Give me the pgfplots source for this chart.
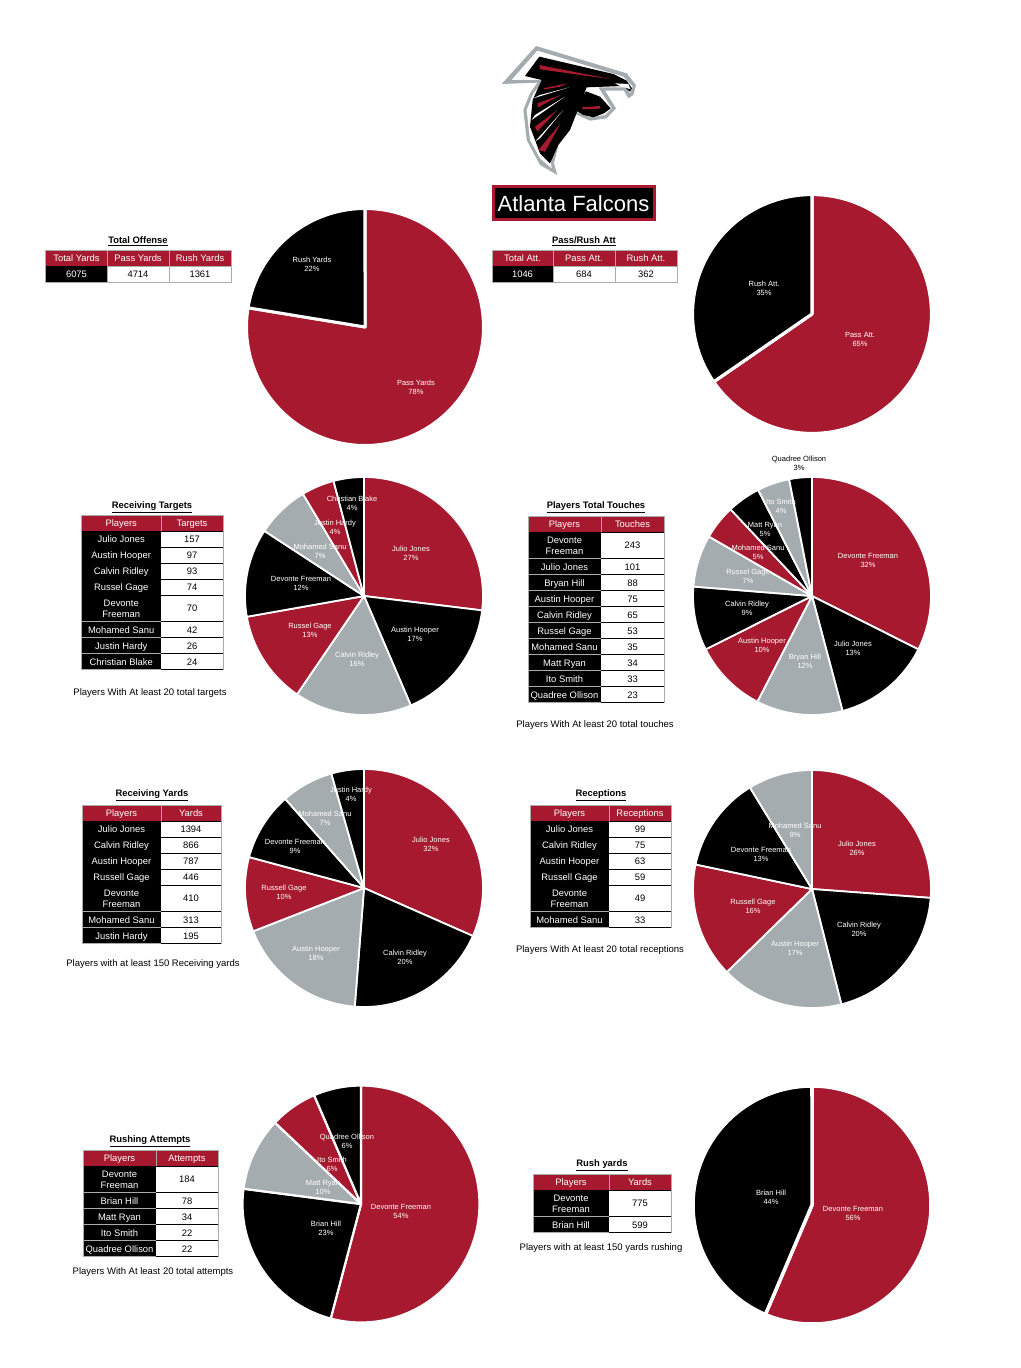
\documentclass[border=0pt]{standalone}
\usepackage{fontspec}
\setmainfont{Liberation Sans}
\usepackage{pgfplots}
\pgfplotsset{compat=1.18}
\definecolor{fred}{HTML}{A6192E}
\definecolor{fgrey}{HTML}{A5ACAF}
\definecolor{fline}{HTML}{ABABAB}

% one pie: centre x, centre y (from the top), diameter, white line width, value/colour list
\newcommand{\piechart}[5]{%
  \begin{axis}[at={(#1pt,-#2pt)},anchor=center,scale only axis,width=#3pt,height=#3pt,
    xmin=-1,xmax=1,ymin=-1,ymax=1,hide axis,clip=false]
    \gdef\pietotal{0}%
    \foreach \pv/\pc in {#5}{\pgfmathsetmacro\pietmp{\pietotal+\pv}\xdef\pietotal{\pietmp}}%
    \gdef\piestart{0}%
    \foreach \pv/\pc in {#5}{%
      \pgfmathsetmacro\piesweep{\pv/\pietotal*360}%
      \pgfmathtruncatemacro\piesteps{max(ceil(\piesweep/2),1)}%
      \gdef\piecoords{(0,0)}%
      \foreach \k in {0,...,\piesteps}{%
        \pgfmathsetmacro\pa{\piestart+\piesweep/\piesteps*\k}%
        \pgfmathsetmacro\px{sin(\pa)}%
        \pgfmathsetmacro\py{cos(\pa)}%
        \xdef\piecoords{\piecoords (\px,\py)}}%
      \edef\temp{\noexpand\addplot[fill=\pc,draw=white,line width=#4pt,line join=round]
        coordinates {\piecoords} -- cycle;}\temp
      \pgfmathsetmacro\pietmp{\piestart+\piesweep}%
      \xdef\piestart{\pietmp}}%
  \end{axis}}

\newcommand{\tabfont}{\fontsize{9.4}{10.7}\selectfont}
\newcommand{\DF}{Devonte\strut\\Freeman\strut}

% player table: x0, x1, x2, top y, two headings, rows name/value/height
\newcommand{\ptable}[7]{%
  \fill[fred] (#1,-#4) rectangle (#3,-#4-16);
  \draw[fline,line width=.8pt] (#1,-#4-16) -- (#1,-#4) -- (#3,-#4) -- (#3,-#4-16);
  \draw[fline,line width=.8pt] (#2,-#4) -- (#2,-#4-16);
  \node[white,font=\tabfont,align=center,yshift=-1.5pt] at ({(#1+#2)/2},-#4-8) {\strut #5};
  \node[white,font=\tabfont,align=center,yshift=-1.5pt] at ({(#2+#3)/2},-#4-8) {\strut #6};
  \gdef\rowy{#4+16}%
  \foreach \nm/\val/\hh in {#7}{%
    \pgfmathsetmacro\ya{\rowy}\pgfmathsetmacro\yb{\rowy+\hh}%
    \fill[black] (#1,-\ya) rectangle (#2,-\yb);
    \draw[fline,line width=.8pt] (#1,-\ya) -- (#1,-\yb) (#3,-\ya) -- (#3,-\yb) (#1,-\yb) -- (#2,-\yb);
    \draw[black,line width=.8pt] (#2,-\ya) -- (#3,-\ya) (#2,-\yb) -- (#3,-\yb);
    \node[white,font=\tabfont,align=center,yshift=-1.5pt] at ({(#1+#2)/2},{-(\ya+\yb)/2}) {\strut\nm};
    \node[black,font=\tabfont,align=center,yshift=-1.5pt] at ({(#2+#3)/2},{-(\ya+\yb)/2}) {\strut\val};
    \xdef\rowy{\yb}}%
}

% summary table frame: x0..x3
\newcommand{\stable}[4]{%
  \fill[fred] (#1,-250.5) rectangle (#4,-266);
  \fill[black] (#1,-266) rectangle (#2,-282);
  \draw[fline,line width=.8pt] (#1,-250.5) rectangle (#4,-282);
  \draw[fline,line width=.8pt] (#2,-250.5) -- (#2,-282) (#3,-250.5) -- (#3,-282) (#2,-266) -- (#4,-266);
}

\newcommand{\ttl}[3]{\node[font=\fontsize{9.4}{11}\selectfont\bfseries,yshift=-1.2pt] at (#1,-#2) {\underline{#3}};}
\newcommand{\capt}[3]{\node[font=\fontsize{9.5}{11}\selectfont,yshift=-.8pt] at (#1,-#2) {#3};}
\newcommand{\pl}[5][white]{\node[#1,font=\fontsize{7.5}{9}\selectfont,align=center,yshift=-1pt] at (#2,-#3) {\strut #4\\\strut #5\%};}

\begin{document}
\begin{tikzpicture}[x=1pt,y=1pt]
\useasboundingbox (0,0) rectangle (1020,-1368);

% pies
\piechart{365}{327}{237}{3}{4714/fred,1361/black}
\piechart{812}{314}{239}{3.2}{684/fred,362/black}
\piechart{364}{596}{238}{1.8}{157/fred,97/black,93/fgrey,74/fred,70/black,42/fgrey,26/fred,24/black}
\piechart{812}{596}{238}{1.8}{243/fred,101/black,88/fgrey,75/fred,65/black,53/fgrey,35/fred,34/black,33/fgrey,23/black}
\piechart{364}{888}{238}{1.8}{1394/fred,866/black,787/fgrey,446/fred,410/black,313/fgrey,195/black}
\piechart{812}{889}{238}{1.8}{99/fred,75/black,63/fgrey,59/fred,49/black,33/fgrey}
\piechart{361}{1204}{237}{2.2}{184/fred,78/black,34/fgrey,22/fred,22/black}
\piechart{812}{1205}{238}{3.5}{775/fred,599/black}

% logo
\begin{scope}[shift={(480,-30)},x=.3333pt,y=-.3333pt]
  \fill[fgrey] (65,162) -- (168,48) -- (440,130) -- (468,165) -- (460,195) -- (445,205) -- (432,182) -- (375,182) -- (408,235) -- (380,265) -- (330,272) -- (270,245) -- (235,345) -- (222,400) -- (232,435) -- (180,405) -- (140,330) -- (130,240) -- (150,190) -- (172,158) -- cycle;
  \fill[white] (95,150) -- (172,62) -- (430,140) -- (458,170) -- (450,190) -- (440,172) -- (355,172) -- (395,235) -- (375,255) -- (330,262) -- (265,235) -- (225,340) -- (212,395) -- (215,415) -- (180,385) -- (150,330) -- (140,240) -- (160,190) -- (195,150) -- cycle;
  \fill[black] (135,138) -- (178,80) -- (400,132) -- (440,152) -- (456,175) -- (450,185) -- (430,168) -- (320,172) -- (270,300) -- (235,345) -- (210,400) -- (180,370) -- (150,290) -- (158,210) -- (185,150) -- cycle;
  \fill[black] (318,184) -- (360,200) -- (392,235) -- (372,250) -- (340,262) -- (310,255) -- (285,240) -- (300,210) -- cycle;
  \fill[fred] (178,105) -- (395,148) -- (180,118) -- cycle;
  \fill[fred] (190,175) -- (262,160) -- (240,170) -- (195,178) -- cycle;
  \fill[fred] (172,220) -- (242,195) -- (175,232) -- cycle;
  \fill[fred] (165,290) -- (232,240) -- (172,305) -- cycle;
  \fill[fred] (175,360) -- (242,280) -- (195,365) -- cycle;
  \fill[fred] (305,232) -- (360,228) -- (360,236) -- (310,238) -- cycle;
  \fill[white] (160,205) -- (268,172) -- (180,195) -- cycle;
  \fill[white] (155,270) -- (255,200) -- (165,255) -- cycle;
  \fill[white] (165,335) -- (250,240) -- (180,325) -- cycle;
  \fill[white] (405,160) -- (445,162) -- (452,178) -- (420,168) -- cycle;
\end{scope}

% name plate
\fill[fred] (492,-185) rectangle (656,-221);
\fill[black] (495,-188) rectangle (653,-218);
\node[white,font=\fontsize{22}{24}\selectfont] at (573.5,-204) {Atlanta Falcons};

% summary tables
\ttl{138}{240}{Total Offense}
\stable{45.5}{107.5}{169}{231}
\node[white,font=\tabfont] at (76.5,-258.3) {Total Yards};
\node[white,font=\tabfont] at (138,-258.3) {Pass Yards};
\node[white,font=\tabfont] at (200,-258.3) {Rush Yards};
\node[white,font=\tabfont] at (76.5,-274.3) {6075};
\node[font=\tabfont] at (138,-274.3) {4714};
\node[font=\tabfont] at (200,-274.3) {1361};

\ttl{584}{240}{Pass/Rush Att}
\stable{492}{553}{615}{677}
\node[white,font=\tabfont] at (522.5,-258.3) {Total Att.};
\node[white,font=\tabfont] at (584,-258.3) {Pass Att.};
\node[white,font=\tabfont] at (646,-258.3) {Rush Att.};
\node[white,font=\tabfont] at (522.5,-274.3) {1046};
\node[font=\tabfont] at (584,-274.3) {684};
\node[font=\tabfont] at (646,-274.3) {362};

% player tables
\ttl{152}{506}{Receiving Targets}
\ptable{81.5}{161}{223}{515}{Players}{Targets}{Julio Jones/157/16,Austin Hooper/97/16,Calvin Ridley/93/16,Russel Gage/74/16,\DF/70/26.5,Mohamed Sanu/42/16,Justin Hardy/26/16,Christian Blake/24/16}
\capt{150}{692}{Players With At least 20 total targets}

\ttl{596}{506}{Players Total Touches}
\ptable{528}{601}{664}{516}{Players}{Touches}{\DF/243/26.5,Julio Jones/101/16,Bryan Hill/88/16,Austin Hooper/75/16,Calvin Ridley/65/16,Russel Gage/53/16,Mohamed Sanu/35/16,Matt Ryan/34/16,Ito Smith/33/16,Quadree Ollison/23/16}
\capt{595}{724}{Players With At least 20 total touches}

\ttl{152}{794}{Receiving Yards}
\ptable{82}{161}{221}{805}{Players}{Yards}{Julio Jones/1394/16,Calvin Ridley/866/16,Austin Hooper/787/16,Russell Gage/446/16,\DF/410/26.5,Mohamed Sanu/313/16,Justin Hardy/195/16}
\capt{153}{963}{Players with at least 150 Receiving yards}

\ttl{601}{794}{Receptions}
\ptable{530}{609}{671}{805}{Players}{Receptions}{Julio Jones/99/16,Calvin Ridley/75/16,Austin Hooper/63/16,Russell Gage/59/16,\DF/49/26.5,Mohamed Sanu/33/16}
\capt{600}{949}{Players With At least 20 total receptions}

\ttl{150}{1140}{Rushing Attempts}
\ptable{83}{156}{218}{1150}{Players}{Attempts}{\DF/184/26.5,Brian Hill/78/16,Matt Ryan/34/16,Ito Smith/22/16,Quadree Ollison/22/16}
\capt{153}{1271}{Players With At least 20 total attempts}

\ttl{602}{1164}{Rush yards}
\ptable{533}{609}{671}{1174}{Players}{Yards}{\DF/775/26.5,Brian Hill/599/16}
\capt{601}{1247}{Players with at least 150 yards rushing}

% pie labels
\pl{312}{264}{Rush Yards}{22}
\pl{416}{387}{Pass Yards}{78}
\pl{764}{288}{Rush Att.}{35}
\pl{860}{339}{Pass Att.}{65}

\pl{411}{553}{Julio Jones}{27}
\pl{415}{634}{Austin Hooper}{17}
\pl{357}{659}{Calvin Ridley}{16}
\pl{310}{630}{Russel Gage}{13}
\pl{301}{583}{Devonte Freeman}{12}
\pl{320}{551}{Mohamed Sanu}{7}
\pl{335}{527}{Justin Hardy}{4}
\pl{352}{503}{Christian Blake}{4}

\pl[black]{799}{463}{Quadree Ollison}{3}
\pl{781}{506}{Ito Smith}{4}
\pl{765}{529}{Matt Ryan}{5}
\pl{758}{552}{Mohamed Sanu}{5}
\pl{748}{576}{Russel Gage}{7}
\pl{747}{608}{Calvin Ridley}{9}
\pl{762}{645}{Austin Hooper}{10}
\pl{805}{661}{Bryan Hill}{12}
\pl{853}{648}{Julio Jones}{13}
\pl{868}{560}{Devonte Freeman}{32}

\pl{431}{844}{Julio Jones}{32}
\pl{405}{957}{Calvin Ridley}{20}
\pl{316}{953}{Austin Hooper}{18}
\pl{284}{892}{Russell Gage}{10}
\pl{295}{846}{Devonte Freeman}{9}
\pl{325}{818}{Mohamed Sanu}{7}
\pl{351}{794}{Justin Hardy}{4}

\pl{857}{848}{Julio Jones}{26}
\pl{859}{929}{Calvin Ridley}{20}
\pl{795}{948}{Austin Hooper}{17}
\pl{753}{906}{Russell Gage}{16}
\pl{761}{854}{Devonte Freeman}{13}
\pl{795}{830}{Mohamed Sanu}{9}

\pl{401}{1211}{Devonte Freeman}{54}
\pl{326}{1228}{Brian Hill}{23}
\pl{323}{1187}{Matt Ryan}{10}
\pl{332}{1164}{Ito Smith}{6}
\pl{347}{1141}{Quadree Ollison}{6}

\pl{853}{1213}{Devonte Freeman}{56}
\pl{771}{1197}{Brian Hill}{44}
\end{tikzpicture}
\end{document}
